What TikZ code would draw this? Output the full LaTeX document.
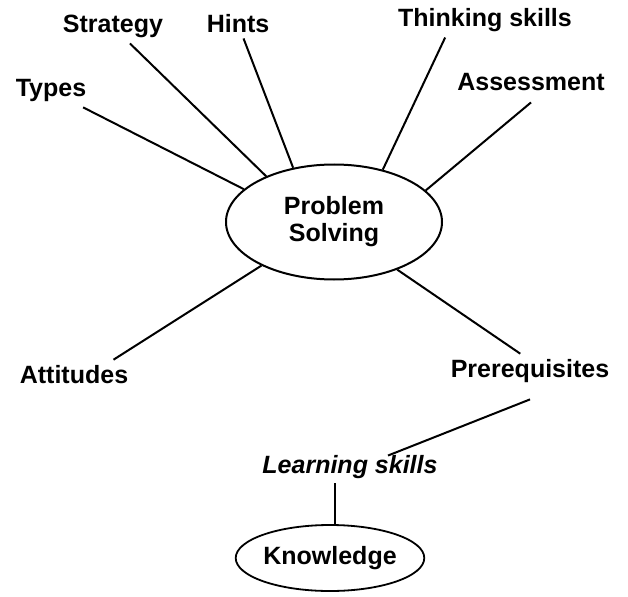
\documentclass[tikz,border=0pt]{standalone}
\usepackage{fontspec}
\setmainfont{Liberation Sans}
\usetikzlibrary{shapes.geometric}

\begin{document}
\begin{tikzpicture}[x=1pt, y=-1pt,
    lbl/.style={font=\fontsize{25}{27}\selectfont\bfseries, inner sep=5pt, anchor=base},
    oval/.style={draw, ellipse, line width=2pt, inner sep=0pt,
                 font=\fontsize{25}{27}\selectfont\bfseries, align=center},
    link/.style={line width=2pt}]
    \useasboundingbox (0,0) rectangle (628,596);

    % central topic
    \node[oval, minimum width=216pt, minimum height=115pt] (ps) at (334,222) {Problem\\Solving};

    % labels round it
    \node[lbl] (types)      at (51,97)   {Types};
    \node[lbl] (strategy)   at (113,33)  {Strategy};
    \node[lbl] (hints)      at (238,33)  {Hints};
    \node[lbl] (thinking)   at (485,27)  {Thinking skills};
    \node[lbl] (assessment) at (531,91)  {Assessment};
    \node[lbl] (attitudes)  at (74,383)  {Attitudes};
    \node[lbl] (prereq)     at (530,377) {Prerequisites};
    \node[lbl, font=\fontsize{25}{27}\selectfont\bfseries\itshape] (learning) at (350,473) {Learning skills};
    \node[oval, line width=1.8pt, minimum width=176pt, minimum height=66pt] (know) at (330,558) {Knowledge};

    % spokes
    \draw[link] (ps.160) -- (types);
    \draw[link] (ps.146) -- (strategy);
    \draw[link] (ps.127) -- (hints);
    \draw[link] (ps.47) -- (thinking.203);
    \draw[link] (ps.19.5) -- ([yshift=-6pt]assessment.south);
    \draw[link] (ps.211) -- (attitudes.20);
    \draw[link] (ps.-37) -- (prereq.120);

    % chain below
    \draw[link] ([yshift=-12pt]prereq.south) -- ([xshift=38pt,yshift=11pt]learning.center);
    \draw[link] ([xshift=5pt]know.north |- learning.south) -- ([xshift=5pt]know.north);
\end{tikzpicture}
\end{document}
